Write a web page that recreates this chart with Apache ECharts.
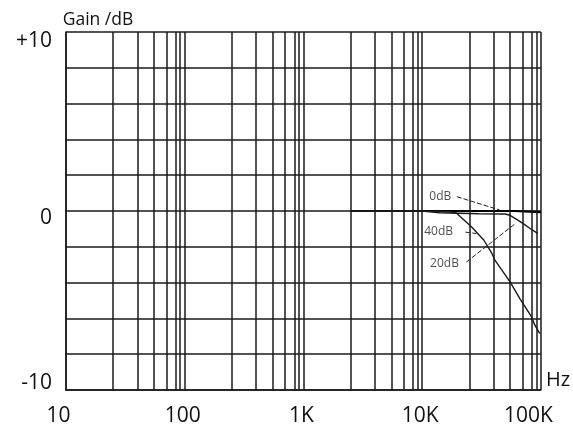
<!DOCTYPE html>
<html>
<head>
<meta charset="utf-8">
<script src="https://cdn.jsdelivr.net/npm/echarts@6/dist/echarts.min.js"></script>
<style>
  html, body { margin: 0; padding: 0; background: #fff; }
  #chart { width: 573px; height: 431px; }
</style>
</head>
<body>
<div id="chart"></div>
<script>
// Frequency response of the amplifier at three gain settings.
const decadeFreqs = [10, 100, 1000, 10000, 100000];
const xTickLabels = ['10', '100', '1K', '10K', '100K'];
const yLabelValues = [10, 0, -10];
const yLabelTexts = ['+10', '0', '-10'];
// Intermediate chart-paper lines inside each decade (multiples of the decade)
const gridFactors = [2.5, 4, 5.5, 7, 8.4, 9.15];

// Gain 0 dB
const freq0dB = [2500, 10000, 30000, 60000, 80000, 100000];
const gain0dB = [0, 0, 0, 0, -0.03, -0.06];
// Gain 20 dB
const freq20dB = [2500, 10000, 14000, 30000, 50000, 55000, 62000, 70000, 80000, 94000];
const gain20dB = [0, 0, -0.1, -0.15, -0.17, -0.24, -0.45, -0.68, -0.95, -1.25];
// Gain 40 dB
const freq40dB = [2500, 10000, 17000, 19500, 21000, 26000, 33000, 38000, 41000, 55000, 66500, 83500, 89000, 98000];
const gain40dB = [0, 0, -0.04, -0.12, -0.32, -0.88, -1.62, -2.28, -2.74, -3.96, -4.89, -5.92, -6.38, -6.85];

// Curve name labels and the leader lines pointing at each curve
const curveNames = ['0dB', '40dB', '20dB'];
const nameAnchorFreq = [17600, 18200, 20400];
const nameAnchorGain = [0.8, -1.16, -2.93];
const leaderFromFreq = [19600, 23100, 23600];
const leaderFromGain = [0.8, -1.18, -2.85];
const leaderToFreq = [44800, 28600, 61800];
const leaderToGain = [0.06, -1.26, -0.67];

const ink = '#1a1a1a';
const font = '"Open Sans", "DejaVu Sans", sans-serif';

function pairs(xs, ys) { return xs.map((x, i) => [x, ys[i]]); }

const minorLines = [];
decadeFreqs.slice(0, -1).forEach(d => {
  gridFactors.forEach(f => minorLines.push({ xAxis: d * f }));
});

const xRich = {
  l: { padding: [0, 15, 0, 0], fontSize: 21, fontFamily: font, color: '#111' },
  n: { padding: [0, 4, 0, 0], fontSize: 21, fontFamily: font, color: '#111' },
  e: { padding: [0, 25, 0, 0], fontSize: 21, fontFamily: font, color: '#111' }
};
const yRich = {
  t: { padding: [18, 0, 0, 0], fontSize: 21, fontFamily: font, color: '#111' },
  m: { padding: [14, 0, 0, 0], fontSize: 21, fontFamily: font, color: '#111' },
  b: { padding: [0, 0, 14, 0], fontSize: 21, fontFamily: font, color: '#111' }
};

const chart = echarts.init(document.getElementById('chart'), null, { renderer: 'canvas' });

const curveStyle = { color: ink, width: 1.4 };

chart.setOption({
  animation: false,
  backgroundColor: '#fff',
  grid: { left: 66, right: 31, top: 32, bottom: 41 },
  xAxis: {
    type: 'log',
    logBase: 10,
    min: 10,
    max: 100000,
    name: 'Hz',
    nameLocation: 'end',
    nameGap: 5,
    nameTextStyle: { fontSize: 20, fontFamily: font, color: '#111', verticalAlign: 'bottom', lineHeight: 20 },
    axisLine: { show: true, onZero: false, lineStyle: { color: ink, width: 1.5 } },
    axisTick: { show: false },
    splitLine: { show: true, lineStyle: { color: ink, width: 1.5 } },
    axisLabel: {
      margin: 16,
      formatter: v => {
        const i = decadeFreqs.findIndex(d => Math.abs(d - v) / d < 1e-6);
        if (i < 0) return '';
        const key = i === 0 ? 'l' : (i === decadeFreqs.length - 1 ? 'e' : 'n');
        return '{' + key + '|' + xTickLabels[i] + '}';
      },
      rich: xRich
    }
  },
  yAxis: {
    type: 'value',
    min: -10,
    max: 10,
    interval: 2,
    name: 'Gain /dB',
    nameLocation: 'end',
    nameGap: 3,
    nameTextStyle: { fontSize: 17.5, fontFamily: font, color: '#111', padding: [0, 0, 0, 64] },
    axisLine: { show: true, onZero: false, lineStyle: { color: ink, width: 1.5 } },
    axisTick: { show: false },
    splitLine: { show: true, lineStyle: { color: ink, width: 1.5 } },
    axisLabel: {
      margin: 14,
      formatter: v => {
        const i = yLabelValues.indexOf(v);
        if (i < 0) return '';
        const key = ['t', 'm', 'b'][i];
        return '{' + key + '|' + yLabelTexts[i] + '}';
      },
      rich: yRich
    }
  },
  series: [
    {
      name: 'grid',
      type: 'line',
      data: [],
      silent: true,
      markLine: {
        silent: true,
        symbol: 'none',
        label: { show: false },
        lineStyle: { color: ink, width: 1.5, type: 'solid' },
        data: minorLines
      }
    },
    {
      name: '0dB', type: 'line', showSymbol: false, silent: true,
      lineStyle: { color: '#000', width: 2.2 },
      data: pairs(freq0dB, gain0dB)
    },
    {
      name: '20dB', type: 'line', showSymbol: false, silent: true,
      lineStyle: curveStyle,
      data: pairs(freq20dB, gain20dB)
    },
    {
      name: '40dB', type: 'line', showSymbol: false, silent: true,
      lineStyle: curveStyle,
      data: pairs(freq40dB, gain40dB)
    },
    {
      name: 'leaders',
      type: 'line',
      data: [],
      silent: true,
      markLine: {
        silent: true,
        symbol: 'none',
        label: { show: false },
        lineStyle: { color: '#222', width: 1, type: [5, 2] },
        data: curveNames.map((n, i) => [
          { coord: [leaderFromFreq[i], leaderFromGain[i]] },
          { coord: [leaderToFreq[i], leaderToGain[i]] }
        ])
      }
    },
    {
      name: 'curve names',
      type: 'scatter',
      silent: true,
      symbolSize: 0,
      data: curveNames.map((n, i) => ({ value: [nameAnchorFreq[i], nameAnchorGain[i]], name: n })),
      label: {
        show: true,
        position: 'left',
        distance: 0,
        formatter: p => p.name,
        fontSize: 12,
        fontFamily: font,
        color: '#222'
      }
    }
  ]
});
</script>
</body>
</html>
